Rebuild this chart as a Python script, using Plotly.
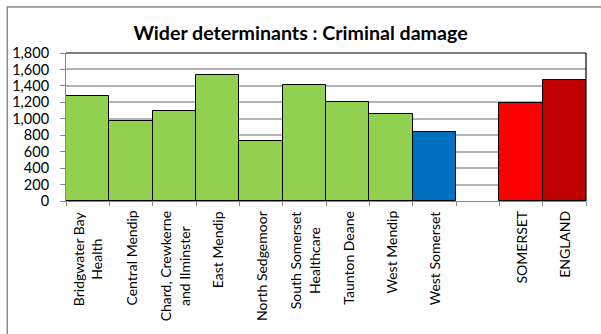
import plotly.graph_objects as go

categories = ["Bridgwater Bay<br>Health", "Central Mendip", "Chard, Crewkerne<br>and Ilminster",
              "East Mendip", "North Sedgemoor", "South Somerset<br>Healthcare", "Taunton Deane",
              "West Mendip", "West Somerset", " ", "SOMERSET", "ENGLAND"]
values = [1281, 972, 1098, 1536, 735, 1411, 1208, 1058, 839, None, 1188, 1468]
colors = ["#92D050"] * 8 + ["#0070C0", "#FFFFFF", "#FF0000", "#C00000"]
y_ticks = [0, 200, 400, 600, 800, 1000, 1200, 1400, 1600, 1800]

W, H = 601, 334
L, R, T, B = 64, 15, 53, 133
pw, ph = W - L - R, H - T - B

fig = go.Figure(go.Bar(
    x=categories, y=values,
    marker=dict(color=colors, line=dict(color="#000000", width=1)),
    hoverinfo="x+y",
))

def px(xp):
    return (xp - L) / pw

def py(yp):
    return (H - B - yp) / ph

annotations = [
    dict(x=c, y=0, xref="x", yref="paper", text=c, textangle=-90,
         showarrow=False, xanchor="center", yanchor="top", yshift=-8,
         align="center", font=dict(size=14, family="Lato, Liberation Sans, sans-serif", color="#000000"))
    for c in categories if c.strip()
]

fig.update_layout(
    width=W, height=H,
    margin=dict(l=L, r=R, t=T, b=B),
    paper_bgcolor="white", plot_bgcolor="white",
    bargap=0,
    showlegend=False,
    font=dict(family="Lato, Liberation Sans, Arial, sans-serif", color="#000000"),
    title=dict(text="<b>Wider determinants : Criminal damage</b>",
               x=0.5, xanchor="center", y=1 - 33 / H, yanchor="middle",
               font=dict(size=19.6, family="Lato, Liberation Sans, sans-serif")),
    xaxis=dict(type="category", showticklabels=False,
               showline=True, linecolor="#868686", linewidth=1,
               ticks="outside", tickson="boundaries", ticklen=4, tickcolor="#868686",
               showgrid=False),
    yaxis=dict(range=[0, 1800], tickvals=y_ticks, tickformat=",d",
               tickfont=dict(size=14.5), ticklabelstandoff=8,
               showline=True, linecolor="#868686", linewidth=1,
               ticks="outside", ticklen=5, tickcolor="#868686",
               showgrid=True, gridcolor="#B3B3B3", gridwidth=1.5, zeroline=False),
    annotations=annotations,
    shapes=[
        dict(type="rect", xref="paper", yref="paper",
             x0=px(5), x1=px(W + 10), y0=py(H + 10), y1=py(7),
             line=dict(color="#8C8C8C", width=1.5), layer="below"),
        dict(type="line", xref="paper", yref="paper", x0=0, x1=1, y0=1, y1=1,
             line=dict(color="#000000", width=1.2)),
        dict(type="line", xref="paper", yref="paper", x0=1, x1=1, y0=0, y1=1,
             line=dict(color="#000000", width=1.2)),
    ],
)

fig.write_html("out.html", config={"displayModeBar": False},
               post_script="document.body.style.margin='0';")
